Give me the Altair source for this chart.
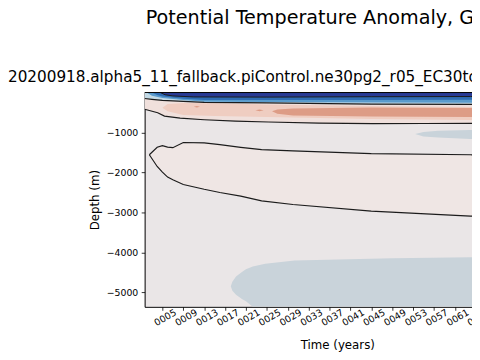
import altair as alt
import pandas as pd

# ---------------- data ----------------
TITLE = "Potential Temperature Anomaly, Global"
SUBTITLE = "20200918.alpha5_11_fallback.piControl.ne30pg2_r05_EC30to60E2r2"
TICK_YEARS = [5, 9, 13, 17, 21, 25, 29, 33, 37, 41, 45, 49, 53, 57, 61, 65, 69, 73]
DEPTH_TICKS = [-1000, -2000, -3000, -4000, -5000]

# upper black contour (bottom of the warm layer)
C0_T = [1.6, 4.1, 5.4, 8.4, 13, 19, 25.3, 35, 45.3, 55, 64, 75]
C0_D = [-418, -505, -590, -640, -680, -715, -738, -765, -780, -775, -770, -770]
# cold / warm boundary contour
CB_T = [1.6, 3, 5, 9, 13, 25, 45, 64, 75]
CB_D = [-150, -170, -195, -220, -245, -260, -290, -295, -300]
# lighter-blue band bottom
L3_T = [2, 3, 5, 9, 13, 25, 45, 64, 75]
L3_D = [0, -80, -140, -190, -228, -240, -252, -255, -257]
# mid-blue band bottom
L4_T = [3, 4, 5, 9, 13, 25, 45, 64, 75]
L4_D = [0, -60, -100, -155, -185, -190, -185, -180, -180]
# navy band bottom
L5_T = [4.6, 5.5, 7, 11, 25, 45, 64, 75]
L5_D = [0, -55, -85, -110, -115, -105, -100, -100]

# light-salmon band
P2_T = [5.0, 6, 9, 15, 25, 45, 64, 75]
P2_TOP = [-380, -290, -265, -270, -300, -340, -360, -360]
P2_BOT = [-380, -470, -560, -590, -610, -660, -690, -690]
# salmon band + small spots
P3_T = [26, 27, 30, 45, 64, 75]
P3_TOP = [-470, -425, -400, -375, -390, -390]
P3_BOT = [-470, -530, -575, -600, -610, -610]
SPOT_T = [11.0, 11.6, 12.2]
SPOT_TOP = [-355, -340, -355]
SPOT_BOT = [-355, -372, -355]
SPOT2_T = [22.8, 23.6, 24.4]
SPOT2_TOP = [-445, -425, -445]
SPOT2_BOT = [-445, -470, -445]

# weak warm lens (closed black contour)
LENS_T = [2.5, 4, 5, 6, 7, 9, 13, 16, 20, 24, 30, 45, 64, 75]
LENS_TOP = [-1557, -1370, -1330, -1365, -1380, -1250, -1260, -1305, -1370, -1430, -1460, -1530, -1557, -1565]
LENS_BOT = [-1557, -1850, -1990, -2115, -2180, -2300, -2420, -2500, -2590, -2710, -2800, -2965, -3092, -3130]

# weak cold patch at ~1100 m, right side
RP_T = [53.4, 55, 57.8, 64, 75]
RP_TOP = [-1040, -985, -959, -935, -920]
RP_BOT = [-1040, -1100, -1124, -1164, -1190]

# weak cold patch near the bottom
BP_T = [18.1, 18.4, 19.1, 20.3, 21.0, 22.3, 24.7, 30.3, 49, 64, 75]
BP_TOP = [-4846, -4731, -4600, -4485, -4420, -4354, -4280, -4199, -4145, -4120, -4110]
BP_BOT = [-4846, -4960, -5060, -5170, -5223, -5360, -5360, -5360, -5360, -5360, -5360]

X_DOMAIN = [1.6, 75.4]
Y_DOMAIN = [-5360, 0]

# ---------------- styling ----------------
FONT = "DejaVu Sans"
NEUTRAL = "#eae6e7"
LENS_C = "#efe6e4"
PINK_C = "#f0e0dc"
P2_C = "#efcdc1"
P3_C = "#dd9c86"
N1_C = "#c9d3da"
N2_C = "#c3dae6"
N3_C = "#5a9bcc"
N4_C = "#2f6cb3"
N5_C = "#283a95"
LINE_C = "#1c1c1c"

xs = alt.Scale(domain=X_DOMAIN, range=[0, 392], nice=False, zero=False)
ys = alt.Scale(domain=Y_DOMAIN, nice=False, zero=False)

x_axis = alt.Axis(
    values=TICK_YEARS,
    labelExpr="pad(toString(datum.value), 4, '0', 'left')",
    labelAngle=330, labelAlign="right", labelBaseline="middle",
    labelOffset=13, labelPadding=1, labelFontSize=9.5, labelFont=FONT,
    labelColor="black", labelFlush=False, labelOverlap=False,
    tickSize=3.5, tickColor="black", tickWidth=0.8,
    domainColor="black", domainWidth=1, grid=False,
    title="Time (years)", titleFont=FONT, titleFontSize=12,
    titleFontWeight="normal", titleColor="black",
    titleX=196, titleY=33, titleBaseline="top", titleAlign="center",
)
y_axis = alt.Axis(
    values=DEPTH_TICKS, format="d",
    labelFontSize=9.5, labelFont=FONT, labelColor="black", labelPadding=3.5,
    tickSize=3.5, tickColor="black", tickWidth=0.8,
    domainColor="black", domainWidth=1, grid=False,
    title="Depth (m)", titleFont=FONT, titleFontSize=12,
    titleFontWeight="normal", titleColor="black", titlePadding=5,
)


def X(field="t"):
    return alt.X(f"{field}:Q", scale=xs, axis=x_axis)


def Y(field):
    return alt.Y(f"{field}:Q", scale=ys, axis=y_axis)


def band(T, TOP, BOT, color):
    df = pd.DataFrame({"t": T, "top": TOP, "bot": BOT})
    return alt.Chart(df).mark_area(color=color, opacity=1, clip=True).encode(
        x=X(), y=Y("top"), y2="bot:Q"
    )


def from_surface(T, D, color):
    df = pd.DataFrame({"t": T, "d": D})
    return alt.Chart(df).mark_area(color=color, opacity=1, clip=True).encode(
        x=X(), y=Y("d"), y2=alt.datum(0)
    )


def contour(T, D, width=1.2):
    df = pd.DataFrame({"t": T, "d": D})
    return alt.Chart(df).mark_line(color=LINE_C, strokeWidth=width, clip=True).encode(
        x=X(), y=Y("d")
    )


def text_layer(txt, x, y, size):
    df = pd.DataFrame({"s": [txt]})
    return alt.Chart(df).mark_text(
        align="left", baseline="alphabetic", font=FONT, fontSize=size, color="black"
    ).encode(x=alt.value(x), y=alt.value(y), text="s:N")


layers = [
    band(LENS_T, LENS_TOP, LENS_BOT, LENS_C),
    band(RP_T, RP_TOP, RP_BOT, N1_C),
    band(BP_T, BP_TOP, BP_BOT, N1_C),
    from_surface(C0_T, C0_D, PINK_C),
    band(P2_T, P2_TOP, P2_BOT, P2_C),
    band(P3_T, P3_TOP, P3_BOT, P3_C),
    band(SPOT_T, SPOT_TOP, SPOT_BOT, P3_C),
    band(SPOT2_T, SPOT2_TOP, SPOT2_BOT, P3_C),
    from_surface(CB_T, CB_D, N2_C),
    from_surface(L3_T, L3_D, N3_C),
    from_surface(L4_T, L4_D, N4_C),
    from_surface(L5_T, L5_D, N5_C),
    contour(C0_T, C0_D),
    contour(CB_T, CB_D),
    contour(L5_T, L5_D, 1.0),
    contour(LENS_T, LENS_TOP),
    contour(LENS_T, LENS_BOT),
    alt.Chart(pd.DataFrame({"a": [0]})).mark_rule(color="black", strokeWidth=1).encode(
        x=alt.value(0), x2=alt.value(392), y=alt.value(0)
    ),
    text_layer(TITLE, 1, -70, 19.5),
    text_layer(SUBTITLE, -139, -10.5, 15.5),
]

chart = alt.layer(*layers).properties(
    width=333,
    height=218,
    autosize=alt.AutoSizeParams(type="none"),
    padding={"left": 139, "top": 83, "right": 0, "bottom": 45},
).configure_view(strokeWidth=0, fill=NEUTRAL)

chart.save("out.html", embed_options={"renderer": "svg", "actions": False})
